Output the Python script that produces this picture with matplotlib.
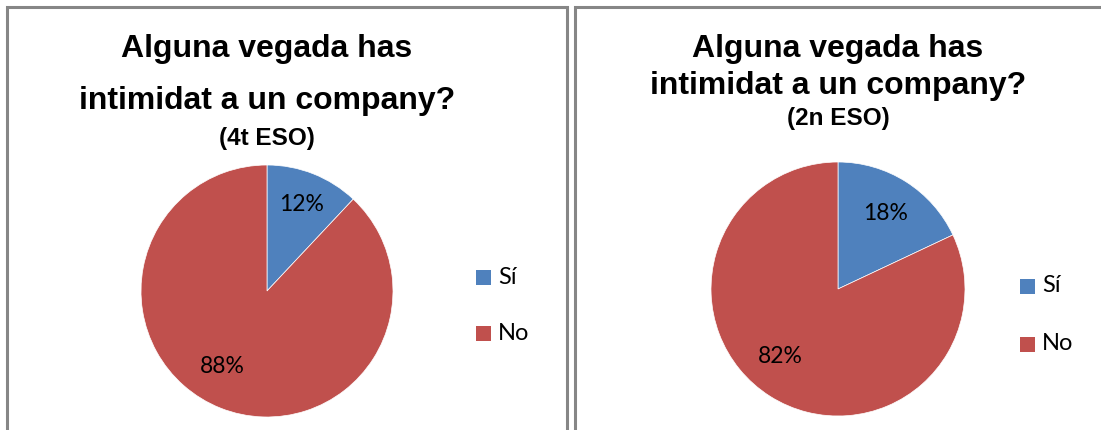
import matplotlib
matplotlib.use("Agg")
import matplotlib.pyplot as plt
import numpy as np
from matplotlib.patches import Rectangle

categories = ["Sí", "No"]
values_4t = [12, 88]
values_2n = [18, 82]
title_main = "Alguna vegada has\nintimidat a un company?"
sub_4t = "(4t ESO)"
sub_2n = "(2n ESO)"
colors = ["#4F81BD", "#C0504D"]

W, H = 1101, 430
fig = plt.figure(figsize=(W / 100, H / 100), dpi=100)
fig.patch.set_facecolor("white")

def px_axes(cx, cy, r):
    return fig.add_axes([(cx - r) / W, (H - cy - r) / H, 2 * r / W, 2 * r / H])

border = "#868686"
fig.add_artist(Rectangle((7 / W, -0.1), (567 - 7) / W, (H - 7) / H + 0.1,
                         transform=fig.transFigure, fill=False, ec=border, lw=2.2))
fig.add_artist(Rectangle((575 / W, -0.1), 0.9, (H - 7) / H + 0.1,
                         transform=fig.transFigure, fill=False, ec=border, lw=2.2))

def draw(cx, cy, r, vals, subtitle, title_lines_y, sub_y, leg_x, leg_y, linesp,
         lab_dist, lab_shift):
    ax = px_axes(cx, cy, r)
    wedges, texts, autotexts = ax.pie(
        vals, colors=colors, startangle=90, counterclock=False,
        autopct="%d%%", pctdistance=0.72,
        wedgeprops=dict(linewidth=0.5, edgecolor="white"),
        textprops=dict(fontsize=16.5, family=["Lato", "DejaVu Sans"], color="black"))
    for w, t, d, s in zip(wedges, autotexts, lab_dist, lab_shift):
        mid = np.deg2rad((w.theta1 + w.theta2) / 2 + s)
        t.set_position((d * np.cos(mid), d * np.sin(mid)))
    ax.set_xlim(-1, 1)
    ax.set_ylim(-1, 1)
    ax.set_aspect("equal")
    ax.axis("off")
    lines = title_main.split("\n")
    for ln, y in zip(lines, title_lines_y):
        fig.text(cx / W, 1 - y / H, ln, ha="center", va="center",
                 fontsize=23, fontweight="bold", family="Liberation Sans")
    fig.text(cx / W, 1 - sub_y / H, subtitle, ha="center", va="center",
             fontsize=17.5, fontweight="bold", family="Liberation Sans")
    for i, (cat, col) in enumerate(zip(categories, colors)):
        y = leg_y + i * linesp
        fig.add_artist(Rectangle((leg_x / W, 1 - (y + 7.5) / H), 15 / W, 15 / H,
                                 transform=fig.transFigure, color=col, lw=0))
        fig.text((leg_x + 22) / W, 1 - y / H, cat, ha="left", va="center",
                 fontsize=17, family=["Lato", "DejaVu Sans"])

draw(267, 291, 126, values_4t, sub_4t, [49, 101], 138, 476, 277, 56,
     [0.74, 0.70], [0, -9])
draw(838, 289, 127, values_2n, sub_2n, [49, 86], 119, 1020, 286, 58,
     [0.70, 0.70], [0, -8])

fig.savefig("out.png", dpi=100)
